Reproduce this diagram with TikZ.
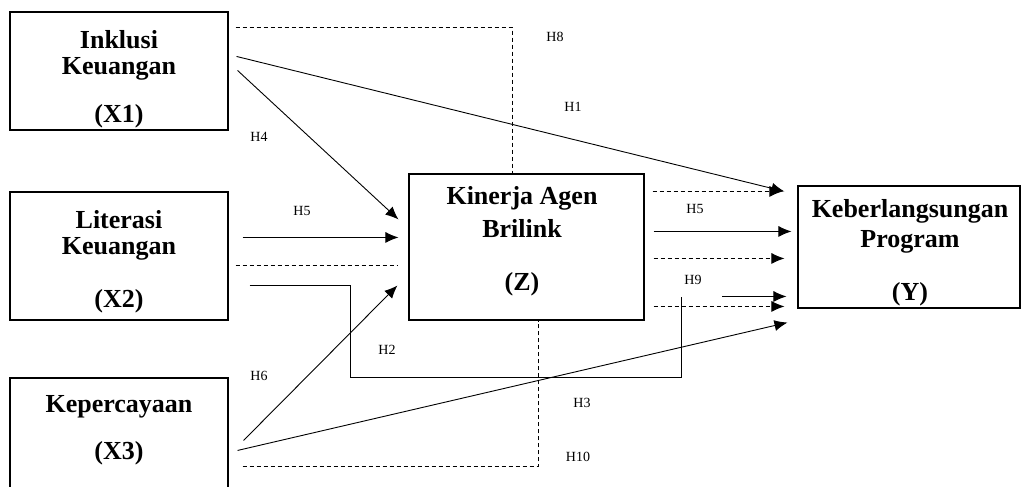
\documentclass[tikz,border=0pt]{standalone}
\usepackage{fontspec}
\setmainfont{Liberation Serif}
\usetikzlibrary{arrows.meta,calc}

\begin{document}
\begin{tikzpicture}[x=1pt, y=-1pt, line width=0.9pt,
  kotak/.style={draw, line width=1.1pt, inner sep=0pt},
  isi/.style={font=\fontsize{26}{26}\selectfont\bfseries, align=center, inner sep=0pt},
  hip/.style={font=\fontsize{14}{14}\selectfont, inner sep=0pt},
  panah/.style={-{Latex[length=13pt,width=11pt]}},
  putus/.style={dash pattern=on 4pt off 3pt}]

  % 画布范围
  \clip (0,0) rectangle (1021,487);

  % 变量框
  \node[kotak, minimum width=218pt, minimum height=118pt] (x1) at (119,71) {};
  \node[kotak, minimum width=218pt, minimum height=128pt] (x2) at (119,256) {};
  \node[kotak, minimum width=218pt, minimum height=127pt] (x3) at (119,441.5) {};
  \node[kotak, minimum width=235pt, minimum height=146pt] (z) at (526.5,247) {};
  \node[kotak, minimum width=222pt, minimum height=122pt] (y) at (909,247) {};

  % 框内文字
  \node[isi] (x1t) at (119,79.5) {Inklusi\\Keuangan\\[22pt](X1)};
  \node[isi] (x2t) at (119,262) {Literasi\\Keuangan\\[27pt](X2)};
  \node[isi] (x3t) at (119,430.5) {Kepercayaan\\[21pt](X3)};
  \node[isi] (zt) at (522,241.5) {Kinerja Agen\\[7pt]Brilink\\[27pt](Z)};
  \node[isi] (yt) at (910,253) {Keberlangsungan\\[4pt]Program\\[27pt](Y)};

  % 直接路径（实线）
  \draw[panah] ($(x1.north east)+(8,45)$) -- ($(y.north west)+(-13,6)$);
  \draw[panah] ($(x1.north east)+(9,59)$) -- ($(z.north west)+(-10,46)$);
  \draw[panah] ($(x2.north east)+(14,46)$) -- ($(z.north west)+(-10,64)$);
  \draw[panah] ($(x3.north east)+(15,63)$) -- ($(z.north west)+(-11,112)$);
  \draw[panah] ($(x3.north east)+(9,73)$) -- ($(y.south west)+(-10,14)$);
  \draw[panah] ($(z.north east)+(9,58)$) -- ($(y.north west)+(-6,46)$);

  % X2 到 Y 的折线
  \draw ($(x2.north east)+(21,94)$) -- ++(101,0) -- ++(0,92)
    -- ++(331,0) -- ++(0,-80);
  \draw[panah] ($(y.north west)+(-75,111)$) -- ($(y.north west)+(-11,111)$);

  % 调节路径（虚线）
  \draw[putus] ($(x1.north east)+(7,16)$) -| ($(z.north west)+(104,0)$);
  \draw[putus] ($(x2.north east)+(7,74)$) -- ($(z.north west)+(-11,92)$);
  \draw[putus] ($(x3.north east)+(14,89)$) -| ($(z.south west)+(130,0)$);
  \draw[putus, panah] ($(z.north east)+(8,18)$) -- ($(y.north west)+(-15,6)$);
  \draw[putus, panah] ($(z.north east)+(9,85)$) -- ($(y.north west)+(-13,73)$);
  \draw[putus, panah] ($(z.north east)+(9,133)$) -- ($(y.north west)+(-13,121)$);

  % 假设标注
  \node[hip] (h8) at (555,37) {H8};
  \node[hip] (h1) at (573,107) {H1};
  \node[hip] (h4) at (259,137) {H4};
  \node[hip] (h5a) at (302,211) {H5};
  \node[hip] (h5b) at (695,209) {H5};
  \node[hip] (h9) at (693,280) {H9};
  \node[hip] (h2) at (387,350) {H2};
  \node[hip] (h6) at (259,376) {H6};
  \node[hip] (h3) at (582,403) {H3};
  \node[hip] (h10) at (578,457) {H10};

\end{tikzpicture}
\end{document}
